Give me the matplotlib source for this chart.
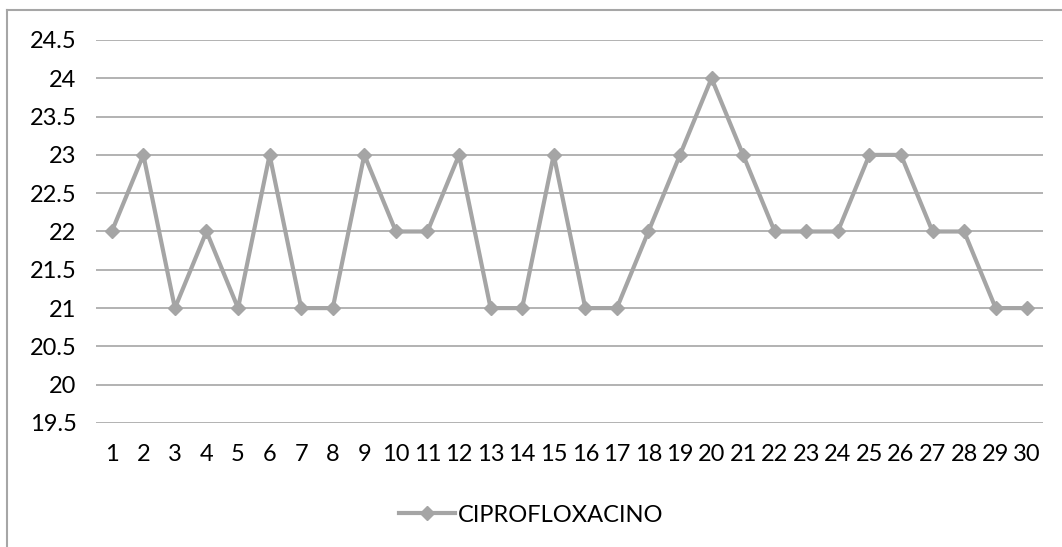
import matplotlib.pyplot as plt
import numpy as np

plt.rcParams['font.family'] = ['Lato', 'DejaVu Sans']

x = np.arange(1, 31)
y = [22, 23, 21, 22, 21, 23, 21, 21, 23, 22, 22, 23, 21, 21, 23,
     21, 21, 22, 23, 24, 23, 22, 22, 22, 23, 23, 22, 22, 21, 21]
yticks = [19.5, 20, 20.5, 21, 21.5, 22, 22.5, 23, 23.5, 24, 24.5]

fig = plt.figure(figsize=(10.62, 5.47), dpi=100)
ax = fig.add_axes([96 / 1062, 1 - 423 / 547, (1043 - 96) / 1062, (423 - 40) / 547])

# outer chart border (left and top visible)
fig.add_artist(plt.Line2D([7 / 1062, 7 / 1062], [0, 1 - 10 / 547], color='#A6A6A6', lw=1.5))
fig.add_artist(plt.Line2D([7 / 1062, 1], [1 - 10 / 547, 1 - 10 / 547], color='#A6A6A6', lw=1.5))

for t in yticks:
    ax.axhline(t, color='#A6A6A6', lw=1.2, zorder=0)

ax.plot(x, y, color='#A5A5A5', lw=3, marker='D', markersize=7.5,
        label='CIPROFLOXACINO', zorder=3)

ax.set_xlim(0.5, 30.5)
ax.set_ylim(19.5, 24.5)
ax.set_yticks(yticks)
ax.set_yticklabels(['19.5', '20', '20.5', '21', '21.5', '22', '22.5', '23', '23.5', '24', '24.5'])
ax.set_xticks(x)
for s in ax.spines.values():
    s.set_visible(False)
ax.tick_params(length=0, labelsize=17, colors='black', pad=14)
ax.tick_params(axis='x', pad=15)

ax.legend(loc='center', bbox_to_anchor=(0.5, 1 - 515 / 547), bbox_transform=fig.transFigure,
          frameon=False, fontsize=17, handlelength=2.4, handletextpad=0.1)

fig.savefig('out.png', dpi=100)
